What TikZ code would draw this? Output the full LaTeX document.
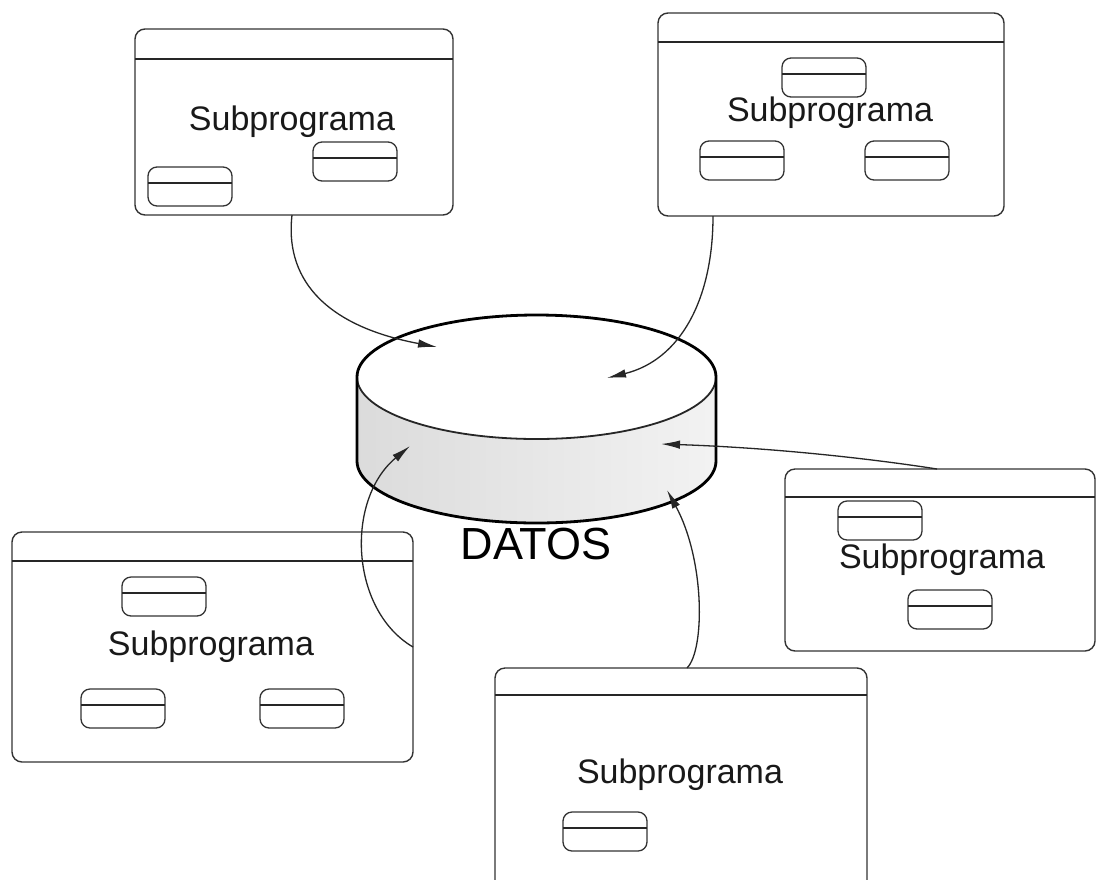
\documentclass[tikz,border=0pt]{standalone}
\usepackage{fontspec}
\setmainfont{Liberation Sans}
\usetikzlibrary{arrows.meta}
\tikzset{
  bigbox/.style={draw=black!80, line width=1.4pt, rounded corners=10pt, anchor=north west, inner sep=0pt, outer sep=0pt},
  smallbox/.style={draw=black!80, line width=1.3pt, rounded corners=9pt, anchor=north west, inner sep=0pt, outer sep=0pt, minimum width=84pt, minimum height=39pt},
  divider/.style={draw=black!85, line width=1.4pt},
  lbl/.style={font=\fontsize{34}{40}\selectfont, text=black!90, inner sep=0pt},
  flow/.style={draw=black!85, line width=1.3pt, -{Latex[length=19pt,width=8.5pt]}},
  cylout/.style={draw=black, line width=2.8pt},
}
\newcommand\minibox[3]{%
  \node[smallbox] (#1) at (#2,#3) {};
  \draw[divider, line width=1.3pt] ([yshift=-16pt]#1.north west) -- ([yshift=-16pt]#1.north east);}
\begin{document}
\begin{tikzpicture}[x=1pt,y=-1pt]
\useasboundingbox (0,0) rectangle (1097,879);
\clip (0,0) rectangle (1097,879);
\fill[white] (0,0) rectangle (1097,879);

% ---- cylinder DATOS ----
\shade[left color=black!14, right color=black!5]
  (357,377) -- (357,461) arc[start angle=180, end angle=0, x radius=179.5, y radius=62]
  -- (716,377) arc[start angle=0, end angle=180, x radius=179.5, y radius=62] -- cycle;
\draw[draw=black!85, line width=1.8pt] (357,377) arc[start angle=180, end angle=0, x radius=179.5, y radius=62];
\draw[cylout] (357,377) arc[start angle=180, end angle=360, x radius=179.5, y radius=62]
  -- (716,461) arc[start angle=0, end angle=180, x radius=179.5, y radius=62] -- cycle;
\node[font=\fontsize{45}{52}\selectfont, inner sep=0pt] (datos) at (536,544) {DATOS};
\coordinate (t1) at (437,347);
\coordinate (t2) at (607,378);
\coordinate (t3) at (410,446);
\coordinate (t4) at (667,490);
\coordinate (t5) at (661,444);

% ---- top-left box ----
\node[bigbox, minimum width=318pt, minimum height=186pt] (b1) at (135,29) {};
\draw[divider] ([yshift=-30pt]b1.north west) -- ([yshift=-30pt]b1.north east);
\node[lbl] (l1) at (292,122) {Subprograma};
\minibox{s11}{148}{167}
\minibox{s12}{313}{142}

% ---- top-right box ----
\node[bigbox, minimum width=346pt, minimum height=203pt] (b2) at (658,13) {};
\draw[divider] ([yshift=-29pt]b2.north west) -- ([yshift=-29pt]b2.north east);
\node[lbl] (l2) at (830,113) {Subprograma};
\minibox{s21}{782}{58}
\minibox{s22}{700}{141}
\minibox{s23}{865}{141}

% ---- bottom-left box ----
\node[bigbox, minimum width=401pt, minimum height=230pt] (b3) at (12,532) {};
\draw[divider] ([yshift=-29pt]b3.north west) -- ([yshift=-29pt]b3.north east);
\node[lbl] (l3) at (211,647) {Subprograma};
\minibox{s31}{122}{577}
\minibox{s32}{81}{689}
\minibox{s33}{260}{689}

% ---- right box ----
\node[bigbox, minimum width=310pt, minimum height=182pt] (b4) at (785,469) {};
\draw[divider] ([yshift=-28pt]b4.north west) -- ([yshift=-28pt]b4.north east);
\node[lbl] (l4) at (942,560) {Subprograma};
\minibox{s41}{838}{501}
\minibox{s42}{908}{590}

% ---- bottom box ----
\node[bigbox, minimum width=372pt, minimum height=240pt] (b5) at (495,668) {};
\draw[divider] ([yshift=-27pt]b5.north west) -- ([yshift=-27pt]b5.north east);
\node[lbl] (l5) at (680,775) {Subprograma};
\minibox{s51}{563}{812}

% ---- connectors ----
\draw[flow] ([xshift=-2pt]b1.south) .. controls (285,275) and (320,325) .. (t1);
\draw[flow] ([xshift=55pt]b2.south west) .. controls (713,300) and (680,360) .. (t2);
\draw[flow] (b3.east) .. controls (350,610) and (345,500) .. (t3);
\draw[flow] ([xshift=6pt]b5.north) .. controls (705,650) and (705,560) .. (t4);
\draw[flow] ([xshift=-3pt]b4.north) .. controls (880,460) and (780,448) .. (t5);
\end{tikzpicture}
\end{document}
